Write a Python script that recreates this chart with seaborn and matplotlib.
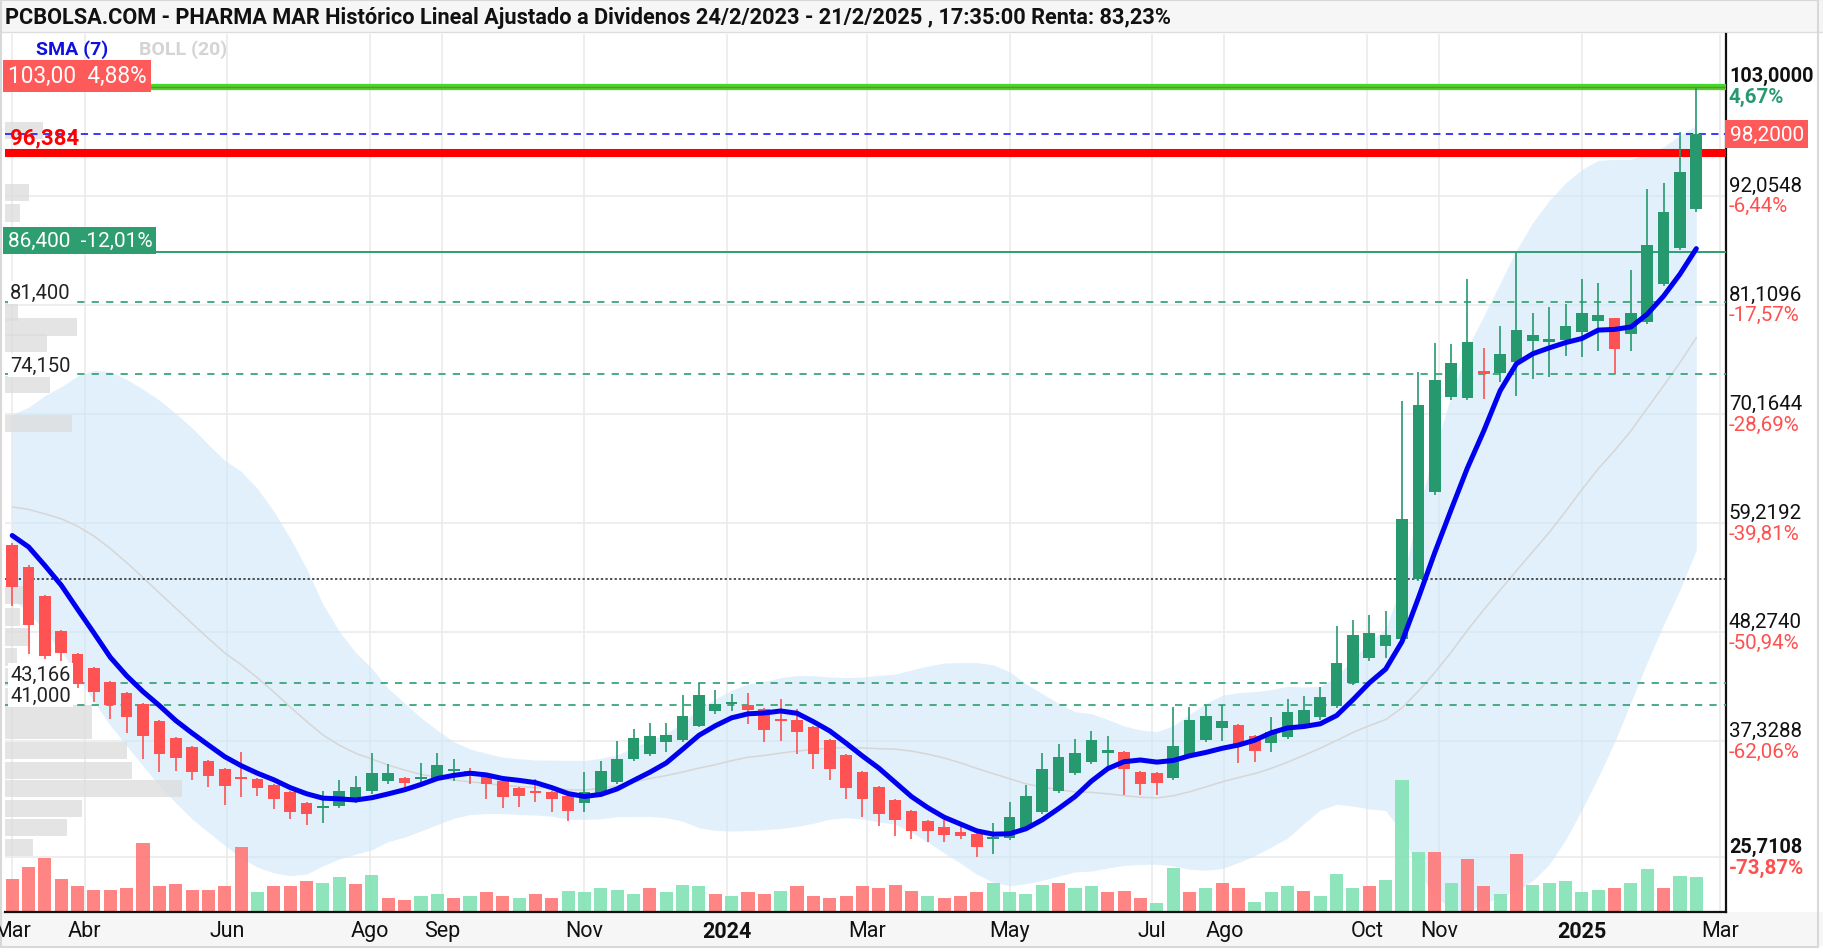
import matplotlib
matplotlib.use("Agg")
import matplotlib.pyplot as plt
import matplotlib.dates as mdates
from matplotlib.patches import Rectangle
import numpy as np
import pandas as pd
import seaborn as sns

# ---- velas semanales (miércoles) 2023-03-01 .. 2025-02-19 ----
week_start = "2023-03-01"
opens = [57.0, 54.8, 51.9, 48.4, 46.1, 44.7, 43.3, 42.2, 41.1, 39.4,
         37.7, 36.8, 35.4, 34.6, 33.7, 33.5, 32.9, 32.2, 31.1, 30.6,
         30.8, 31.4, 32.3, 33.3, 33.6, 33.5, 33.6, 34.4, 34.4, 34.0,
         33.3, 32.6, 32.3, 32.2, 31.8, 31.1, 31.9, 33.2, 35.6, 36.1,
         37.3, 37.5, 38.9, 40.4, 41.1, 41.0, 40.6, 39.6, 39.5, 38.8,
         37.5, 36.0, 34.3, 32.7, 31.4, 30.3, 29.3, 28.7, 28.2, 28.0,
         27.5, 27.6, 28.6, 30.2, 32.3, 34.2, 35.3, 36.2, 36.3, 34.3,
         34.2, 33.6, 35.9, 37.5, 38.7, 39.0, 37.9, 37.2, 37.8, 38.9,
         39.8, 40.9, 43.2, 45.7, 46.9, 47.6, 53.6, 62.3, 71.9, 71.8,
         74.5, 74.3, 75.4, 77.5, 77.4, 77.6, 78.4, 79.5, 79.8, 78.2,
         79.4, 83.2, 86.8, 90.7]
highs = [57.2, 55.0, 52.0, 48.5, 46.2, 44.8, 43.4, 42.3, 41.2, 39.5,
         37.8, 36.9, 35.5, 34.7, 36.3, 33.6, 33.0, 32.3, 31.2, 32.3,
         33.4, 33.9, 36.2, 35.1, 33.8, 35.2, 36.2, 35.6, 34.7, 34.2,
         33.5, 32.7, 33.5, 32.3, 31.9, 34.3, 35.4, 37.4, 38.6, 39.2,
         39.2, 42.0, 43.2, 42.5, 42.1, 42.2, 40.7, 41.6, 40.6, 38.9,
         37.6, 36.1, 34.4, 32.8, 31.5, 30.4, 29.4, 29.4, 28.8, 28.1,
         29.1, 31.2, 32.9, 36.2, 37.1, 37.6, 38.4, 37.9, 36.4, 34.4,
         34.3, 40.8, 40.8, 41.0, 41.0, 39.1, 38.0, 39.8, 41.6, 41.9,
         42.8, 48.9, 49.5, 50.0, 50.4, 71.5, 74.4, 77.3, 77.2, 83.7,
         76.8, 79.0, 86.4, 80.3, 80.9, 81.2, 83.7, 83.3, 79.8, 84.6,
         92.7, 93.3, 98.4, 103.0]
lows = [50.9, 46.1, 45.6, 45.4, 42.7, 41.3, 39.6, 38.2, 35.6, 34.3,
        34.4, 33.4, 32.7, 30.9, 31.7, 31.8, 30.5, 29.5, 28.9, 29.1,
        30.6, 31.1, 32.0, 33.0, 32.4, 32.9, 33.4, 33.3, 33.0, 31.5,
        30.6, 30.7, 31.2, 30.2, 29.3, 30.2, 31.7, 33.0, 35.4, 35.9,
        36.3, 37.3, 38.8, 40.1, 40.4, 39.1, 37.3, 37.4, 36.1, 34.6,
        33.4, 31.5, 29.7, 28.8, 27.8, 27.5, 27.2, 27.2, 27.5, 25.7,
        26.0, 27.4, 28.4, 30.0, 32.1, 34.0, 35.1, 34.6, 31.9, 31.9,
        31.9, 33.4, 35.7, 37.3, 37.4, 35.2, 35.3, 36.3, 37.6, 38.7,
        39.5, 40.7, 43.0, 45.4, 45.7, 47.3, 53.4, 62.0, 71.6, 71.6,
        71.7, 73.4, 72.0, 73.7, 73.9, 76.0, 75.9, 76.5, 74.2, 76.5,
        79.2, 83.0, 86.6, 90.4]
closes = [52.8, 49.0, 45.9, 46.2, 43.1, 42.3, 41.0, 39.8, 37.9, 36.1,
          35.7, 34.3, 33.9, 32.8, 33.5, 32.6, 31.5, 30.2, 30.0, 30.8,
          32.3, 32.7, 34.2, 34.2, 33.1, 33.7, 35.0, 34.5, 34.2, 33.0,
          31.7, 31.8, 32.1, 31.5, 30.3, 32.2, 34.4, 35.6, 37.7, 37.9,
          38.0, 39.9, 42.0, 41.1, 41.2, 40.5, 38.5, 39.4, 38.3, 36.1,
          34.6, 32.6, 31.5, 30.0, 29.4, 28.3, 28.3, 27.9, 27.8, 26.7,
          27.7, 29.7, 31.8, 34.6, 35.8, 36.2, 37.5, 36.5, 34.6, 33.0,
          33.1, 36.9, 39.5, 39.9, 39.4, 36.9, 36.4, 38.3, 40.3, 40.5,
          41.8, 45.2, 48.0, 48.2, 48.0, 59.6, 71.1, 73.6, 75.3, 77.4,
          74.2, 76.2, 78.6, 78.1, 77.7, 79.0, 80.3, 80.1, 76.7, 80.3,
          87.1, 90.4, 94.4, 98.2]
# cierres semanales previos (necesarios para SMA 7 y BOLL 20 al inicio)
prev_closes = [54, 55, 56, 58, 62, 66, 68, 68, 67, 66, 65, 64, 62, 57, 59, 60, 60, 59, 58]

# volumen semanal (miles) y color de la barra
vol_k = [495, 675, 810, 495, 390, 330, 330, 360, 1035, 390,
         420, 330, 330, 390, 975, 300, 390, 390, 465, 435,
         525, 420, 555, 210, 180, 240, 270, 210, 240, 300,
         240, 210, 270, 210, 315, 300, 360, 330, 270, 360,
         300, 405, 390, 270, 240, 300, 270, 315, 390, 240,
         210, 240, 390, 360, 405, 315, 240, 210, 240, 300,
         435, 300, 270, 405, 435, 360, 390, 300, 315, 210,
         135, 660, 300, 360, 435, 360, 150, 300, 390, 315,
         240, 570, 360, 390, 480, 1980, 900, 900, 435, 795,
         390, 270, 870, 405, 435, 465, 300, 330, 360, 435,
         645, 360, 540, 525]
vol_dir = ("rrrrrrrrrr" "rrrrrgrrrg" "grgrrggrgr" "rgrrgggggr" "gggrgrrgrr"
           "rrrrrrgrrr" "ggggrggrrr" "ggrgrrgggr" "gggrgggrgr" "rgrgggggrg" "grgg")

# volumen por precio (perfil izquierdo)
profile_price = [98.6, 92.4, 90.3, 80.4, 78.9, 77.3, 73.1, 69.2, 52.0, 49.8, 47.8,
                 45.8, 43.8, 41.8, 40.1, 38.4, 36.4, 34.4, 32.6, 30.6, 28.7, 26.7]
profile_vol = [38, 24, 15, 13, 72, 42, 45, 67, 21, 15, 25,
               12, 45, 60, 87, 87, 122, 127, 177, 77, 62, 28]

y_ticks = [25.7108, 37.3288, 48.2740, 59.2192, 70.1644, 81.1096, 92.0548, 103.0]
y_tick_txt = ["25,7108", "37,3288", "48,2740", "59,2192", "70,1644", "81,1096", "92,0548", "103,0000"]
y_tick_pct = ["-73,87%", "-62,06%", "-50,94%", "-39,81%", "-28,69%", "-17,57%", "-6,44%", "4,67%"]

month_ticks = ["2023-03-01", "2023-04-01", "2023-06-01", "2023-08-01", "2023-09-01", "2023-11-01",
               "2024-01-01", "2024-03-01", "2024-05-01", "2024-07-01", "2024-08-01", "2024-10-01",
               "2024-11-01", "2025-01-01", "2025-03-01"]
month_txt = ["Mar", "Abr", "Jun", "Ago", "Sep", "Nov", "2024", "Mar", "May", "Jul", "Ago",
             "Oct", "Nov", "2025", "Mar"]

last_price = 98.2
max_price = 103.0
start_price = 53.59
red_level = 96.384
green_level = 86.4
dashed_levels = [81.4, 74.15, 43.166, 41.0]
dashed_txt = ["81,400", "74,150", "43,166", "41,000"]

title = ("PCBOLSA.COM - PHARMA MAR Histórico Lineal Ajustado a Dividenos "
         "24/2/2023 - 21/2/2025 , 17:35:00 Renta: 83,23%")

GREEN = "#26996e"
RED = "#ff5252"
VGREEN = "#84e3b6"
VRED = "#ff7a7a"
PCT_RED = "#ff5050"

sns.set_theme(style="white")
plt.rcParams["font.family"] = ["Roboto", "DejaVu Sans"]

W, H = 1823, 953
fig = plt.figure(figsize=(W / 100, H / 100), dpi=100)
rect = [5 / W, 40 / H, 1721 / W, 878 / H]
ax0 = fig.add_axes(rect, zorder=0)   # rejilla, bandas, perfil
axv = fig.add_axes(rect, zorder=1)   # volumen
ax = fig.add_axes(rect, zorder=2)    # velas, niveles, textos
axv.patch.set_visible(False)
ax.patch.set_visible(False)

ylim = (20.21, 108.27)
xlim = (mdates.date2num(pd.Timestamp("2023-02-25 22:00")),
        mdates.date2num(pd.Timestamp("2025-03-03 17:00")))

dates = pd.date_range(week_start, periods=len(closes), freq="7D")
x = mdates.date2num(dates)
o = np.array(opens)
c = np.array(closes)

# indicadores
hist = pd.Series(prev_closes + closes)
n0 = len(prev_closes)
sma7 = hist.rolling(7).mean().iloc[n0:].to_numpy()
mid = hist.rolling(20).mean().iloc[n0:].to_numpy()
sd = hist.rolling(20).std(ddof=0).iloc[n0:].to_numpy()
df = pd.DataFrame({"x": x, "mid": mid, "sma": sma7})

# ---- capa de fondo: rejilla, Bollinger, perfil de volumen ----
ax0.set_xlim(*xlim)
ax0.set_ylim(*ylim)
ax0.set_yticks(y_ticks)
ax0.set_xticks(mdates.date2num(pd.to_datetime(month_ticks)))
ax0.grid(True, color="#ebebeb", lw=1.2)
ax0.tick_params(labelleft=False, labelbottom=False, length=0)
for s in ax0.spines.values():
    s.set_visible(False)
ax0.fill_between(x, mid - 2 * sd, mid + 2 * sd, color="#cfe8fa", alpha=0.62, lw=0, zorder=1)
sns.lineplot(data=df, x="x", y="mid", ax=ax0, color="#d6d6d6", lw=1.1, zorder=2)
ax0.barh(profile_price, np.array(profile_vol) / 1721, height=1.75, left=0,
         color="#dcdcdc", alpha=0.75, lw=0, zorder=3, transform=ax0.get_yaxis_transform())
ax0.set_xlabel("")
ax0.set_ylabel("")

# ---- volumen ----
axv.bar(x, vol_k, width=5.6, color=[VRED if d == "r" else VGREEN for d in vol_dir],
        alpha=0.92, lw=0)
axv.set_xlim(*xlim)
axv.set_ylim(0, 878 * 15)
axv.axis("off")

# ---- niveles horizontales ----
ax.axhline(start_price, color="#222222", lw=1.1, ls=(0, (1.5, 1.5)), zorder=3)
for lv in dashed_levels:
    ax.axhline(lv, color="#3aa57a", lw=1.3, ls=(0, (4, 4)), zorder=3)
ax.axhline(green_level, color="#2e9e70", lw=1.4, zorder=3)
ax.axhline(red_level, color="#ff0000", lw=5.8, zorder=3)
ax.axhline(last_price, color="#2a2aff", lw=1.3, ls=(0, (4, 3)), zorder=3)
ax.axhline(max_price, color="#3ddc2a", lw=4.5, zorder=3)
ax.axhline(max_price, color="#c0603a", lw=1.0, zorder=3)

# ---- velas ----
up = c >= o
col = np.where(up, GREEN, RED)
ax.vlines(x, lows, highs, colors=col, lw=1.2, zorder=4)
ax.bar(x, np.maximum(np.abs(c - o), 0.2), bottom=np.minimum(o, c), width=5.0,
       color=col, lw=0, zorder=5)

# SMA 7
sns.lineplot(data=df, x="x", y="sma", ax=ax, color="#0000f0", lw=3.6, zorder=6)

ax.set_xlim(*xlim)
ax.set_ylim(*ylim)
ax.set_xlabel("")
ax.set_ylabel("")
ax.set_yticks([])
ax.set_xticks(mdates.date2num(pd.to_datetime(month_ticks)))
ax.set_xticklabels(month_txt, fontsize=15.5, color="#111111")
for lab in ax.get_xticklabels():
    if lab.get_text().isdigit():
        lab.set_fontweight("bold")
ax.tick_params(axis="both", length=0, pad=6)
for s in ("left", "top"):
    ax.spines[s].set_visible(False)
for s in ("right", "bottom"):
    ax.spines[s].set_color("#111111")
    ax.spines[s].set_linewidth(1.6)

# ---- etiquetas del eje derecho ----
tx = 1.0017
ytr = ax.get_yaxis_transform()
for v, t, p in zip(y_ticks, y_tick_txt, y_tick_pct):
    bold = v in (y_ticks[0], y_ticks[-1])
    ax.text(tx, v + 0.12, t, transform=ytr, ha="left", va="bottom",
            fontsize=14.3 if bold else 14.8, color="#111111",
            fontweight="bold" if bold else "normal")
    ax.text(tx, v - 0.05, p, transform=ytr, ha="left", va="top",
            fontsize=14.8, fontweight="bold" if bold else "normal",
            color=GREEN if p[0] != "-" else PCT_RED)
ax.text(tx + 0.0005, last_price, "98,2000", transform=ytr, ha="left", va="center",
        fontsize=15, color="white",
        bbox=dict(boxstyle="square,pad=0.22", fc="#ff5a5a", ec="none"))

# ---- etiquetas de niveles a la izquierda ----
lx = 0.0015
ax.text(lx, max_price - 0.05, "103,00  4,88%", transform=ytr,
        ha="left", va="bottom", fontsize=16.3, color="white", zorder=7,
        bbox=dict(boxstyle="square,pad=0.2", fc="#ff5a5a", ec="none"))
ax.text(lx, green_level + 0.2, "86,400  -12,01%", transform=ytr,
        ha="left", va="bottom", fontsize=15, color="white", zorder=7,
        bbox=dict(boxstyle="square,pad=0.2", fc="#2e9e70", ec="none"))
ax.text(0.003, red_level + 0.4, "96,384", transform=ytr,
        ha="left", va="bottom", fontsize=16, color="#ff0000", fontweight="bold", zorder=7)
for lv, t in zip(dashed_levels, dashed_txt):
    ax.text(0.003, lv - 0.05, t, transform=ytr, ha="left", va="bottom",
            fontsize=14.5, color="#222222", zorder=7,
            bbox=dict(boxstyle="square,pad=0.1", fc="white", ec="none"))

# ---- leyenda de indicadores ----
fig.text(36 / W, 1 - 50 / H, "SMA (7)", fontsize=14, color="#1010e0", fontweight="bold", va="center")
fig.text(139 / W, 1 - 50 / H, "BOLL (20)", fontsize=14, color="#d4d4d4", fontweight="bold", va="center")

# ---- barras de título y pie ----
fig.patches.append(Rectangle((0, 1 - 33 / H), 1, 33 / H, transform=fig.transFigure,
                             fc="#f6f6f6", ec="#dddddd", lw=1, zorder=-1))
fig.patches.append(Rectangle((0, 6 / H), 1, 34 / H, transform=fig.transFigure,
                             fc="#f6f6f6", ec="none", zorder=-1))
fig.patches.append(Rectangle((0.5 / W, 5 / H), 1 - 6 / W, 1 - 6 / H, transform=fig.transFigure,
                             fill=False, ec="#d8d8d8", lw=1.5, zorder=-1))
fig.text(5 / W, 1 - 18 / H, title, fontsize=15.7, fontweight="bold", color="#111111", va="center")

fig.savefig("out.png", dpi=100, facecolor="white")
